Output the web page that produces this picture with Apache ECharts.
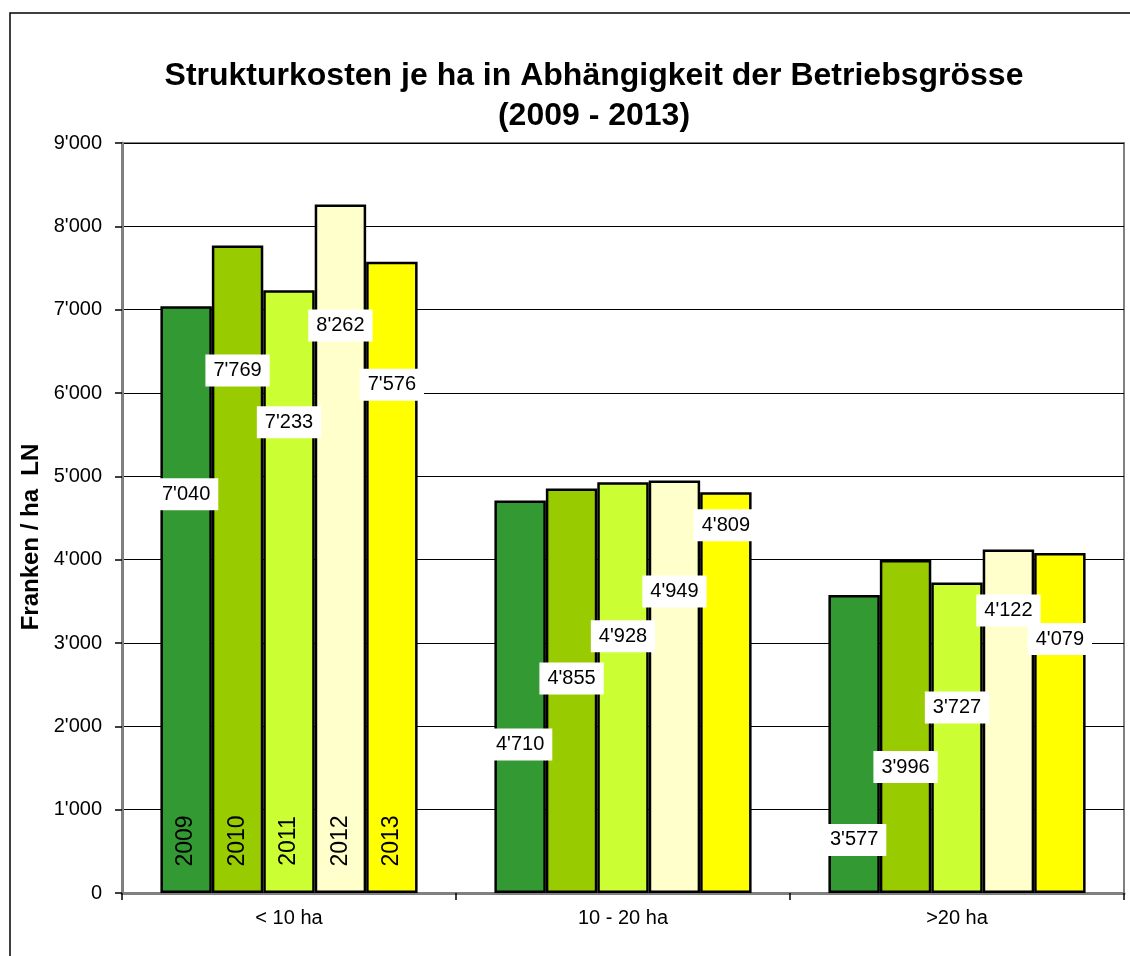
<!DOCTYPE html>
<html>
<head>
<meta charset="utf-8">
<script src="https://cdn.jsdelivr.net/npm/echarts@6/dist/echarts.min.js"></script>
<style>
  html, body { margin: 0; padding: 0; background: #fff; }
  #chart { width: 1130px; height: 956px; }
</style>
</head>
<body>
<div id="chart"></div>
<script>
  // data
  var categories = ['< 10 ha', '10 - 20 ha', '>20 ha'];
  var years = ['2009', '2010', '2011', '2012', '2013'];
  var v2009 = [7040, 4710, 3577];
  var v2010 = [7769, 4855, 3996];
  var v2011 = [7233, 4928, 3727];
  var v2012 = [8262, 4949, 4122];
  var v2013 = [7576, 4809, 4079];
  var yTicks = [0, 1000, 2000, 3000, 4000, 5000, 6000, 7000, 8000, 9000];

  // layout only: how far (px) each value box sits below the bar top
  var labelDrop = [
    [188, 244, 245],
    [125, 190, 207],
    [132, 154, 125],
    [121, 111, 61],
    [123, 33, 86]
  ];
  var colors = ['#339933', '#99cc00', '#ccff33', '#ffffcc', '#ffff00'];
  var values = [v2009, v2010, v2011, v2012, v2013];
  var font = 'Liberation Sans, Arial, sans-serif';

  function fmt(v) {
    return String(v).replace(/\B(?=(\d{3})+(?!\d))/g, "'");
  }

  var series = values.map(function (vals, s) {
    return {
      name: years[s],
      type: 'bar',
      barGap: '0%',
      barCategoryGap: '23%',
      itemStyle: { color: colors[s], borderColor: '#000', borderWidth: 2.5 },
      label: {
        show: true,
        align: 'center',
        verticalAlign: 'middle',
        formatter: function (p) { return fmt(p.value); },
        color: '#000',
        fontFamily: font,
        fontSize: 20,
        backgroundColor: '#fff',
        padding: [6, 8, 6, 8]
      },
      data: vals.map(function (v, i) {
        return { value: v, label: { position: ['50%', labelDrop[s][i]] } };
      }),
      markPoint: {
        symbol: 'rect',
        symbolSize: 1,
        itemStyle: { color: 'rgba(0,0,0,0)' },
        label: {
          show: true,
          position: 'inside',
          rotate: 90,
          formatter: years[s],
          color: '#000',
          fontFamily: font,
          fontSize: 23
        },
        data: [{ coord: [categories[0], 624] }]
      }
    };
  });

  var chart = echarts.init(document.getElementById('chart'));
  chart.setOption({
    animation: false,
    backgroundColor: '#fff',
    grid: {
      left: 122, right: 6, top: 143, bottom: 63,
      show: true, borderColor: '#808080', borderWidth: 2
    },
    graphic: [
      {
        type: 'rect',
        shape: { x: 10, y: 13, width: 1200, height: 1000 },
        style: { fill: 'none', stroke: '#000', lineWidth: 1.5 },
        silent: true
      },
      {
        type: 'text',
        x: 594, y: 56,
        style: {
          text: 'Strukturkosten je ha in Abhängigkeit der Betriebsgrösse\n(2009 - 2013)',
          font: 'bold 32px ' + font,
          lineHeight: 40,
          fill: '#000',
          align: 'center',
          verticalAlign: 'top'
        },
        silent: true
      },
      {
        type: 'text',
        x: 31, y: 537,
        rotation: Math.PI / 2,
        style: {
          text: 'Franken / ha  LN',
          font: 'bold 24px ' + font,
          fill: '#000',
          align: 'center',
          verticalAlign: 'middle'
        },
        silent: true
      }
    ],
    xAxis: {
      type: 'category',
      data: categories,
      axisLine: { lineStyle: { color: '#808080', width: 3 } },
      axisTick: { show: true, length: 7, lineStyle: { color: '#000', width: 1.5 } },
      axisLabel: { margin: 15, color: '#000', fontFamily: font, fontSize: 20 }
    },
    yAxis: {
      type: 'value',
      min: yTicks[0],
      max: yTicks[yTicks.length - 1],
      interval: yTicks[1] - yTicks[0],
      axisLine: { show: true, lineStyle: { color: '#808080', width: 3 } },
      axisTick: { show: true, length: 7, lineStyle: { color: '#000', width: 1.5 } },
      axisLabel: { margin: 20, color: '#000', fontFamily: font, fontSize: 20, formatter: fmt },
      splitLine: { lineStyle: { color: '#000', width: 1 } }
    },
    series: series
  });
</script>
</body>
</html>
